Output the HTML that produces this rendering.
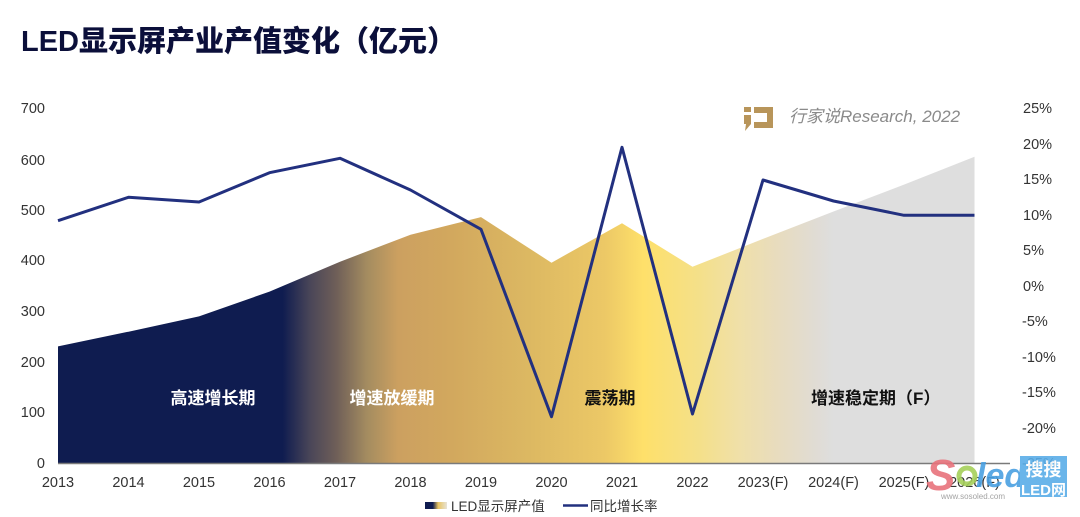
<!DOCTYPE html>
<html><head><meta charset="utf-8">
<style>
html,body{margin:0;padding:0;background:#fff;}
svg{display:block;}
text{font-family:"Liberation Sans","Noto Sans CJK SC",sans-serif;}
</style></head>
<body>
<svg width="1080" height="517" viewBox="0 0 1080 517" xmlns="http://www.w3.org/2000/svg">
<defs>
<linearGradient id="ag" gradientUnits="userSpaceOnUse" x1="58" y1="0" x2="975" y2="0">
<stop offset="0" stop-color="#0f1c50"/>
<stop offset="0.245" stop-color="#0f1c50"/>
<stop offset="0.275" stop-color="#4a4658"/>
<stop offset="0.303" stop-color="#6e5e58"/>
<stop offset="0.337" stop-color="#a48c60"/>
<stop offset="0.371" stop-color="#cca060"/>
<stop offset="0.429" stop-color="#d2a85e"/>
<stop offset="0.513" stop-color="#dcb862"/>
<stop offset="0.596" stop-color="#ecc866"/>
<stop offset="0.638" stop-color="#fee06a"/>
<stop offset="0.700" stop-color="#f4e08a"/>
<stop offset="0.742" stop-color="#f0e0a8"/>
<stop offset="0.784" stop-color="#e8dcbe"/>
<stop offset="0.826" stop-color="#e0dcd4"/>
<stop offset="0.846" stop-color="#dedede"/>
<stop offset="1" stop-color="#dedede"/>
</linearGradient>
<linearGradient id="lg" x1="0" y1="0" x2="1" y2="0">
<stop offset="0" stop-color="#0f1c50"/>
<stop offset="0.35" stop-color="#0f1c50"/>
<stop offset="0.6" stop-color="#e8c462"/>
<stop offset="1" stop-color="#e8e4d8"/>
</linearGradient>
</defs>

<!-- title -->
<text x="21" y="51" font-size="29" font-weight="900" fill="#0b0f3a">LED显示屏产业产值变化（亿元）</text>

<!-- area -->
<path d="M58,463.5 L58,346.4 L128.5,331.7 L199,316.4 L269.5,291.6 L340,261.7 L410.5,234.8 L481,217.1 L551.5,262.7 L622,223.2 L692.5,266.8 L763,238.9 L833.5,211.5 L904,184.6 L974.5,156.7 L974.5,463.5 Z" fill="url(#ag)"/>

<!-- axis line -->
<line x1="58" y1="463.5" x2="1010" y2="463.5" stroke="#7a7a7a" stroke-width="1.5"/>

<!-- phase labels -->
<g font-size="17" font-weight="bold">
<text x="213" y="404" text-anchor="middle" fill="#ffffff">高速增长期</text>
<text x="392" y="404" text-anchor="middle" fill="#ffffff">增速放缓期</text>
<text x="610" y="404" text-anchor="middle" fill="#111111">震荡期</text>
<text x="811" y="404" fill="#111111">增速稳定期（F）</text>
</g>

<!-- line -->
<polyline points="58,220.7 128.5,197.3 199,202 269.5,172.7 340,158.3 410.5,190 481,229.3 551.5,416.7 622,147.3 692.5,414 763,180 833.5,201 904,215.3 974.5,215.3" fill="none" stroke="#22307f" stroke-width="3" stroke-linejoin="round"/>

<!-- left axis -->
<g font-size="14.5" fill="#333" text-anchor="end">
<text x="45" y="113">700</text>
<text x="45" y="165">600</text>
<text x="45" y="215">500</text>
<text x="45" y="265">400</text>
<text x="45" y="316">300</text>
<text x="45" y="367">200</text>
<text x="45" y="417">100</text>
<text x="45" y="468">0</text>
</g>

<!-- right axis -->
<g font-size="14.5" fill="#333">
<text x="1023" y="113">25%</text>
<text x="1023" y="149">20%</text>
<text x="1023" y="184">15%</text>
<text x="1023" y="220">10%</text>
<text x="1023" y="255">5%</text>
<text x="1023" y="291">0%</text>
<text x="1022" y="326">-5%</text>
<text x="1022" y="362">-10%</text>
<text x="1022" y="397">-15%</text>
<text x="1022" y="433">-20%</text>
<text x="1022" y="468">-25%</text>
</g>

<!-- x axis -->
<g font-size="14.5" fill="#333" text-anchor="middle">
<text x="58" y="487">2013</text>
<text x="128.5" y="487">2014</text>
<text x="199" y="487">2015</text>
<text x="269.5" y="487">2016</text>
<text x="340" y="487">2017</text>
<text x="410.5" y="487">2018</text>
<text x="481" y="487">2019</text>
<text x="551.5" y="487">2020</text>
<text x="622" y="487">2021</text>
<text x="692.5" y="487">2022</text>
<text x="763" y="487">2023(F)</text>
<text x="833.5" y="487">2024(F)</text>
<text x="904" y="487">2025(F)</text>
<text x="974.5" y="487">2026(F)</text>
</g>

<!-- legend -->
<rect x="425" y="502" width="22" height="7" fill="url(#lg)"/>
<text x="451" y="511" font-size="13.5" fill="#333">LED显示屏产值</text>
<line x1="563" y1="505.5" x2="588" y2="505.5" stroke="#22307f" stroke-width="2.5"/>
<text x="590" y="511" font-size="13.5" fill="#333">同比增长率</text>

<!-- research watermark -->
<g fill="#b8955a">
<rect x="744" y="107" width="7" height="5"/>
<path d="M744,115 L751,115 L751,124 L745,131 L746,124 L744,124 Z"/>
<path d="M754,107 L773,107 L773,128 L754,128 L754,122 L767,122 L767,113 L754,113 Z"/>
</g>
<text x="789" y="122" font-size="17" fill="#8a8a8a" font-style="italic">行家说Research, 2022</text>

<!-- soled watermark -->
<g opacity="0.9">
<text x="926" y="490" font-size="44" font-weight="bold" font-style="italic" fill="#e8737c">S</text>
<circle cx="967" cy="476" r="8" fill="none" stroke="#a6d05a" stroke-width="5"/>
<text x="976" y="487" font-size="34" font-weight="bold" font-style="italic" fill="#4aa0e2">led</text>
<text x="941" y="499" font-size="8" fill="#999">www.sosoled.com</text>
<rect x="1020" y="456" width="47" height="41" fill="#5aaee8"/>
<text x="1043.5" y="476" font-size="18" font-weight="bold" fill="#fff" text-anchor="middle">搜搜</text>
<text x="1043.5" y="495" font-size="15" font-weight="bold" fill="#fff" text-anchor="middle">LED网</text>
</g>
</svg>
</body></html>
